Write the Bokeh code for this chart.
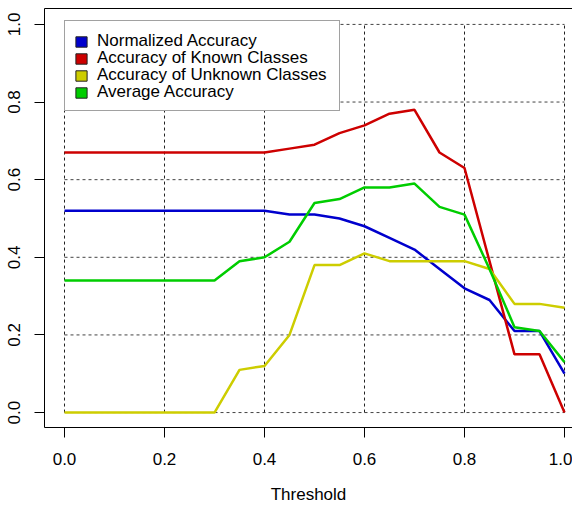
from bokeh.plotting import figure
from bokeh.models import Range1d, FixedTicker, LinearAxis, Legend, LegendItem, PrintfTickFormatter
from bokeh.embed import file_html
from bokeh.resources import INLINE

threshold = [0.0, 0.05, 0.1, 0.15, 0.2, 0.25, 0.3, 0.35, 0.4, 0.45, 0.5,
             0.55, 0.6, 0.65, 0.7, 0.75, 0.8, 0.85, 0.9, 0.95, 1.0]
normalized = [0.52, 0.52, 0.52, 0.52, 0.52, 0.52, 0.52, 0.52, 0.52, 0.51, 0.51,
              0.50, 0.48, 0.45, 0.42, 0.37, 0.32, 0.29, 0.21, 0.21, 0.10]
known = [0.67, 0.67, 0.67, 0.67, 0.67, 0.67, 0.67, 0.67, 0.67, 0.68, 0.69,
         0.72, 0.74, 0.77, 0.78, 0.67, 0.63, 0.39, 0.15, 0.15, 0.00]
unknown = [0.00, 0.00, 0.00, 0.00, 0.00, 0.00, 0.00, 0.11, 0.12, 0.20, 0.38,
           0.38, 0.41, 0.39, 0.39, 0.39, 0.39, 0.37, 0.28, 0.28, 0.27]
average = [0.34, 0.34, 0.34, 0.34, 0.34, 0.34, 0.34, 0.39, 0.40, 0.44, 0.54,
           0.55, 0.58, 0.58, 0.59, 0.53, 0.51, 0.37, 0.22, 0.21, 0.13]

series_names = ["Normalized Accuracy", "Accuracy of Known Classes",
                "Accuracy of Unknown Classes", "Average Accuracy"]
series_colors = ["#0000CD", "#CD0000", "#CDCD00", "#00CD00"]
x_ticks = [0.0, 0.2, 0.4, 0.6, 0.8, 1.0]
y_ticks = [0.0, 0.2, 0.4, 0.6, 0.8, 1.0]
x_label = "Threshold"

FONT = "Liberation Sans"
NAN = float("nan")

p = figure(width=572, height=506, output_backend="svg", toolbar_location=None,
           x_range=Range1d(-0.04, 1.016), y_range=Range1d(-0.0385, 1.041),
           x_axis_location=None, y_axis_location=None,
           min_border_left=44, min_border_top=8, min_border_right=0, min_border_bottom=77)
p.outline_line_color = None
p.grid.visible = False
p.background_fill_color = "white"
p.border_fill_color = "white"

def style_axis(ax):
    ax.major_tick_out = 10
    ax.major_tick_in = 0
    ax.minor_tick_out = 0
    ax.minor_tick_in = 0
    ax.axis_line_color = "black"
    ax.major_tick_line_color = "black"
    ax.major_label_text_font = FONT
    ax.major_label_text_font_size = "17px"
    ax.major_label_text_color = "black"
    ax.axis_label_text_font = FONT
    ax.axis_label_text_font_size = "17px"
    ax.axis_label_text_font_style = "normal"
    ax.axis_label_text_color = "black"

xaxis = LinearAxis(ticker=FixedTicker(ticks=x_ticks), formatter=PrintfTickFormatter(format="%.1f"),
                   axis_label=x_label)
style_axis(xaxis)
xaxis.major_label_standoff = 15
xaxis.axis_label_standoff = 17
p.add_layout(xaxis, "below")

yaxis = LinearAxis(ticker=FixedTicker(ticks=y_ticks), formatter=PrintfTickFormatter(format="%.1f"))
style_axis(yaxis)
yaxis.major_label_orientation = "vertical"
yaxis.major_label_standoff = 14
p.add_layout(yaxis, "left")

topaxis = LinearAxis(ticker=FixedTicker(ticks=[]), major_label_text_font_size="0px")
topaxis.axis_line_color = "black"
topaxis.major_tick_out = 0
topaxis.major_tick_in = 0
topaxis.minor_tick_out = 0
topaxis.minor_tick_in = 0
p.add_layout(topaxis, "above")

# dotted grid limited to the data extent
p.segment(x0=x_ticks, y0=[y_ticks[0]] * len(x_ticks), x1=x_ticks, y1=[y_ticks[-1]] * len(x_ticks),
          line_color="#222222", line_width=1, line_dash="3 3")
p.segment(x0=[x_ticks[0]] * len(y_ticks), y0=y_ticks, x1=[x_ticks[-1]] * len(y_ticks), y1=y_ticks,
          line_color="#444444", line_width=1, line_dash="3 3")

for vals, col in zip([normalized, known, unknown, average], series_colors):
    p.line(threshold, vals, line_color=col, line_width=2.5)

# legend frame (white box with grey border)
frame_r = p.quad(left=[NAN], right=[NAN], top=[NAN], bottom=[NAN], fill_alpha=0, line_alpha=0)
box = Legend(items=[LegendItem(label=" ", renderers=[frame_r])], location=(20, 316))
box.padding = 0
box.margin = 0
box.spacing = 0
box.glyph_width = 274
box.glyph_height = 89
box.label_standoff = 0
box.label_width = 0
box.label_height = 0
box.label_text_font_size = "1px"
box.border_line_color = "#444444"
box.border_line_width = 1
box.background_fill_color = "white"
box.background_fill_alpha = 1.0
p.add_layout(box, "center")

# legend entries, one row every 17 px
for i, (name, col) in enumerate(zip(series_names, series_colors)):
    r = p.quad(left=[NAN], right=[NAN], top=[NAN], bottom=[NAN],
               fill_color=col, line_color="#222222", line_width=1)
    lg = Legend(items=[LegendItem(label=name, renderers=[r])], location=(30, 376 - 17 * i))
    lg.label_text_font = FONT
    lg.label_text_font_size = "17px"
    lg.label_text_color = "black"
    lg.label_height = 17
    lg.glyph_width = 14
    lg.glyph_height = 13
    lg.label_standoff = 9
    lg.spacing = 0
    lg.padding = 0
    lg.margin = 0
    lg.border_line_color = None
    lg.background_fill_alpha = 0
    p.add_layout(lg, "center")

open("out.html", "w").write(file_html(p, INLINE))
